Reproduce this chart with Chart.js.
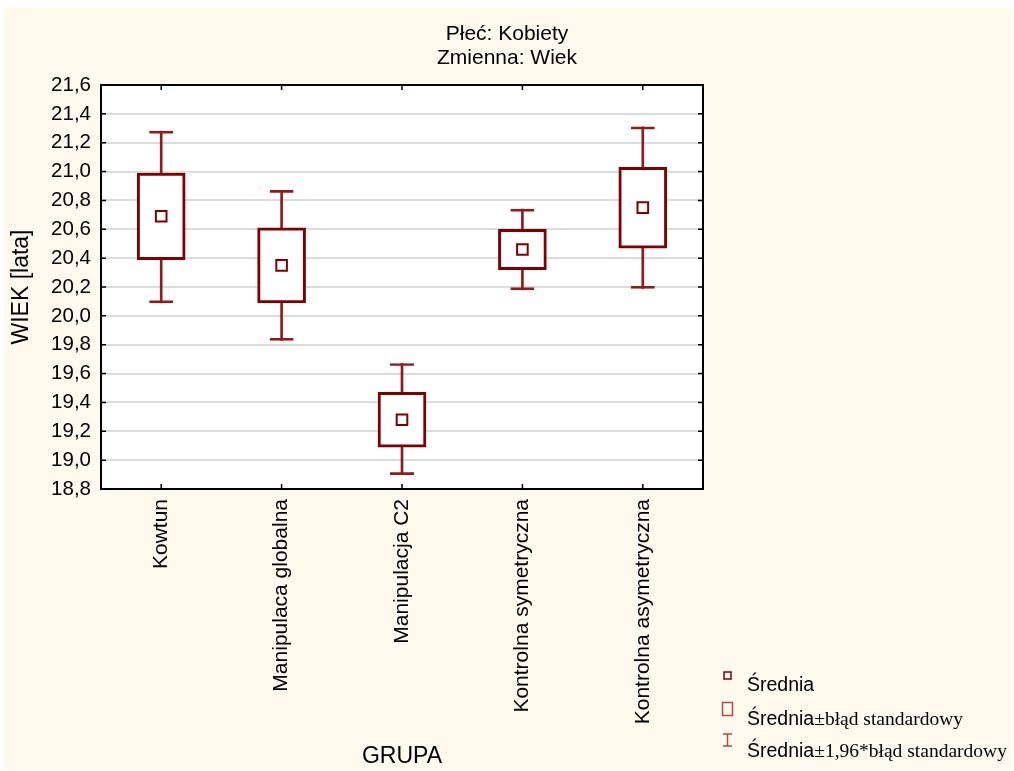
<!DOCTYPE html>
<html>
<head>
<meta charset="utf-8">
<script src="https://cdn.jsdelivr.net/npm/chart.js@4.4.1/dist/chart.umd.min.js"></script>
<style>
html,body{margin:0;padding:0;background:#ffffff;}
#wrap{position:relative;width:1014px;height:771px;}
</style>
</head>
<body>
<div id="wrap"><canvas id="c" width="1014" height="771"></canvas></div>
<script>
// ---- data ----
const categories = ["Kowtun", "Manipulaca globalna", "Manipulacja C2", "Kontrolna symetryczna", "Kontrolna asymetryczna"];
const means   = [20.69, 20.35, 19.28, 20.46, 20.75];
const seLow   = [20.39, 20.09, 19.09, 20.32, 20.47];
const seHigh  = [20.99, 20.61, 19.47, 20.60, 21.03];
const ciLow   = [20.09, 19.83, 18.90, 20.18, 20.19];
const ciHigh  = [21.28, 20.87, 19.67, 20.74, 21.31];
const yTicks  = [18.8, 19.0, 19.2, 19.4, 19.6, 19.8, 20.0, 20.2, 20.4, 20.6, 20.8, 21.0, 21.2, 21.4, 21.6];
const titleLines = ["Płeć: Kobiety", "Zmienna: Wiek"];
const legendLabels = [["Średnia", ""], ["Średnia", "±błąd standardowy"], ["Średnia", "±1,96*błąd standardowy"]];

const MAROON = "#800000";
const WHISK = "#8f1c1c";
const SANS = "'Liberation Sans', Arial, sans-serif";
const SERIF = "'Liberation Serif', 'Times New Roman', serif";

const pair = (a, b) => a.map((v, i) => [v, b[i]]);

const bgPlugin = {
  id: "bg",
  beforeDraw(chart) {
    const {ctx, chartArea: a} = chart;
    ctx.save();
    ctx.fillStyle = "#ffffff";
    ctx.fillRect(0, 0, chart.width, chart.height);
    ctx.fillStyle = "#fff9ee";
    ctx.fillRect(4, 8, chart.width - 6, chart.height - 9);
    ctx.fillStyle = "#ffffff";
    ctx.fillRect(a.left, a.top, a.right - a.left, a.bottom - a.top);
    ctx.restore();
  }
};

const framePlugin = {
  id: "frame",
  afterDraw(chart) {
    const {ctx, chartArea: a, scales} = chart;
    ctx.save();
    ctx.strokeStyle = "#000000";
    ctx.lineWidth = 2;
    ctx.strokeRect(a.left, a.top, a.right - a.left, a.bottom - a.top);
    ctx.lineWidth = 1.5;
    ctx.beginPath();
    scales.y.ticks.forEach(t => {
      const y = scales.y.getPixelForValue(t.value);
      ctx.moveTo(a.left, y); ctx.lineTo(a.left + 5, y);
      ctx.moveTo(a.right, y); ctx.lineTo(a.right - 5, y);
    });
    categories.forEach((c, i) => {
      const x = scales.x.getPixelForValue(i);
      ctx.moveTo(x, a.top); ctx.lineTo(x, a.top + 5);
      ctx.moveTo(x, a.bottom); ctx.lineTo(x, a.bottom - 5);
    });
    ctx.stroke();

    // legend
    const rows = [686, 720, 752];
    ctx.lineWidth = 1.5;
    ctx.strokeStyle = MAROON;
    ctx.strokeRect(724, 672, 7, 7);
    ctx.strokeStyle = "#b24848";
    ctx.strokeRect(722.5, 702.5, 10, 13);
    ctx.beginPath();
    ctx.moveTo(723, 734); ctx.lineTo(732, 734);
    ctx.moveTo(727.5, 734); ctx.lineTo(727.5, 746);
    ctx.moveTo(723, 746); ctx.lineTo(732, 746);
    ctx.stroke();
    ctx.fillStyle = "#000000";
    ctx.textBaseline = "middle";
    ctx.textAlign = "left";
    legendLabels.forEach((l, i) => {
      ctx.font = "19.5px " + SANS;
      ctx.fillText(l[0], 747, rows[i]);
      const w = ctx.measureText(l[0]).width;
      ctx.font = "19.5px " + SERIF;
      ctx.fillText(l[1], 747 + w, rows[i]);
    });
    ctx.restore();
  }
};

new Chart(document.getElementById("c"), {
  type: "bar",
  data: {
    labels: categories,
    datasets: [
      {
        type: "line", label: "Średnia", data: means, order: 0,
        showLine: false, pointStyle: "rect", pointRadius: 7.5,
        pointBackgroundColor: "#ffffff", pointBorderColor: MAROON, pointBorderWidth: 2
      },
      {
        label: "Średnia±błąd standardowy", data: pair(seLow, seHigh), order: 1,
        grouped: false, barThickness: 48, backgroundColor: "#ffffff",
        borderColor: MAROON, borderWidth: 3, borderSkipped: false
      },
      {
        label: "caps", data: pair(ciLow, ciHigh), order: 2,
        grouped: false, barThickness: 24, backgroundColor: "rgba(0,0,0,0)",
        borderColor: WHISK, borderWidth: {top: 2, bottom: 2, left: 0, right: 0}, borderSkipped: false
      },
      {
        label: "stem", data: pair(ciLow, ciHigh), order: 3,
        grouped: false, barThickness: 2, backgroundColor: WHISK, borderWidth: 0
      }
    ]
  },
  options: {
    responsive: false,
    animation: false,
    layout: {padding: {left: 0, right: 0, top: 0, bottom: 0}},
    plugins: {
      legend: {display: false},
      tooltip: {enabled: false},
      title: {
        display: true, text: titleLines, color: "#000000",
        font: {family: SANS, size: 21, weight: "normal", lineHeight: 1.143},
        padding: {top: 22, bottom: 15}
      }
    },
    scales: {
      x: {
        offset: true,
        grid: {display: false, drawTicks: false},
        border: {display: false},
        ticks: {
          color: "#000000", font: {family: SANS, size: 21},
          maxRotation: 90, minRotation: 90, padding: 10, autoSkip: false
        },
        title: {display: true, text: "GRUPA", color: "#000000", font: {family: SANS, size: 23, lineHeight: 1.1}, padding: {top: 0, bottom: 2}},
        afterFit(s) { s.height = 771 - 489; }
      },
      y: {
        min: 18.8, max: 21.6,
        afterBuildTicks(s) { s.ticks = yTicks.map(v => ({value: v})); },
        grid: {color: "#dcdcdc", lineWidth: 2, drawTicks: false},
        border: {display: false},
        ticks: {
          color: "#000000", font: {family: SANS, size: 20.5}, padding: 10,
          callback: v => Number(v).toFixed(1).replace(".", ",")
        },
        title: {display: true, text: "WIEK [lata]", color: "#000000", font: {family: SANS, size: 23, lineHeight: 1.1}, padding: {top: 9, bottom: 0}},
        afterFit(s) { s.width = 101; }
      },
      y2: {
        position: "right", min: 18.8, max: 21.6,
        grid: {display: false, drawTicks: false},
        border: {display: false},
        ticks: {display: false},
        afterFit(s) { s.width = 1014 - 703; }
      }
    }
  },
  plugins: [bgPlugin, framePlugin]
});
</script>
</body>
</html>
